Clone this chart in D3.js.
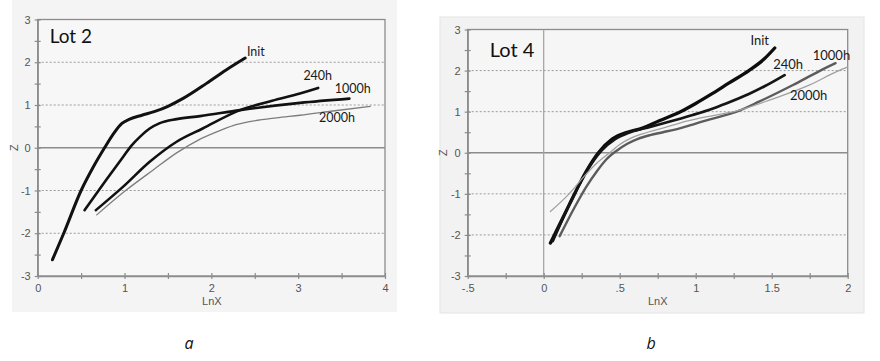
<!DOCTYPE html>
<html><head><meta charset="utf-8">
<script src="https://cdn.jsdelivr.net/npm/d3@7"></script>
<style>body{margin:0;background:#fff}svg{display:block}</style>
</head><body>
<svg id="c" width="880" height="361"></svg>
<script>
// ---------- data ----------
const seriesNames = ["Init", "240h", "1000h", "2000h"];

// Lot 2 (panel a): [LnX, Z]
const lot2Init = [[0.17,-2.62],[0.30,-2.0],[0.50,-1.0],[0.64,-0.45],[0.77,0.0],[0.88,0.35],[0.97,0.57],[1.06,0.67],[1.2,0.76],[1.35,0.85],[1.5,0.97],[1.68,1.16],[1.94,1.50],[2.17,1.82],[2.39,2.10]];
const lot2H240 = [[0.67,-1.46],[0.985,-0.91],[1.29,-0.33],[1.6,0.14],[1.9,0.45],[2.33,0.88],[2.7,1.1],[3.02,1.27],[3.23,1.40]];
const lot2H1000 = [[0.54,-1.46],[0.79,-0.75],[0.985,-0.21],[1.08,0.05],[1.18,0.26],[1.29,0.45],[1.40,0.57],[1.60,0.67],[1.87,0.74],[2.33,0.88],[3.02,1.05],[3.59,1.15]];
const lot2H2000 = [[0.68,-1.57],[1.02,-0.99],[1.33,-0.52],[1.6,-0.12],[1.85,0.18],[2.06,0.37],[2.25,0.52],[2.44,0.61],[2.75,0.70],[3.02,0.76],[3.4,0.86],[3.83,0.97]];

// Lot 4 (panel b)
const lot4Init = [[0.044,-2.20],[0.17,-1.25],[0.28,-0.45],[0.36,0.0],[0.45,0.33],[0.55,0.5],[0.65,0.6],[0.76,0.78],[0.9,1.0],[1.0,1.2],[1.1,1.42],[1.22,1.7],[1.35,2.0],[1.45,2.28],[1.52,2.55]];
const lot4H240 = [[0.06,-2.15],[0.19,-1.1],[0.3,-0.35],[0.38,0.05],[0.47,0.33],[0.57,0.5],[0.7,0.63],[0.8,0.73],[0.98,0.92],[1.1,1.06],[1.2,1.2],[1.35,1.43],[1.48,1.67],[1.585,1.89]];
const lot4H1000 = [[0.105,-2.03],[0.2,-1.35],[0.28,-0.83],[0.35,-0.45],[0.41,-0.17],[0.48,0.05],[0.55,0.22],[0.62,0.34],[0.7,0.43],[0.785,0.5],[0.9,0.6],[1.0,0.71],[1.1,0.82],[1.27,1.0],[1.42,1.25],[1.64,1.65],[1.82,2.0],[1.92,2.18]];
const lot4H2000 = [[0.044,-1.43],[0.17,-0.99],[0.26,-0.6],[0.35,-0.25],[0.45,0.05],[0.5,0.2],[0.57,0.35],[0.65,0.46],[0.8,0.62],[0.9,0.73],[1.05,0.86],[1.27,1.02],[1.5,1.3],[1.75,1.65],[1.93,1.98],[2.0,2.09]];

// label anchor positions in data units
const lot2LabelPos = [[2.41,2.21],[3.06,1.65],[3.42,1.35],[3.24,0.67]];
const lot4LabelPos = [[1.36,2.70],[1.51,2.11],[1.77,2.35],[1.62,1.36]];

// tick labels
const lot2XTickValues = [0, 1, 2, 3, 4];
const lot2XTickLabels = ["0", "1", "2", "3", "4"];
const lot4XTickValues = [-0.5, 0, 0.5, 1, 1.5, 2];
const lot4XTickLabels = ["-.5", "0", ".5", "1", "1.5", "2"];
const yTickValues = [-3, -2, -1, 0, 1, 2, 3];
const yTickLabels = ["-3", "-2", "-1", "0", "1", "2", "3"];

// ---------- drawing ----------
const svg = d3.select("#c");
const AX = "#8c8c8c", TXT = "#555";

function drawPanel(o) {
  const g = svg.append("g");
  g.append("rect").attr("x", o.bg[0]).attr("y", o.bg[1]).attr("width", o.bg[2]).attr("height", o.bg[3])
    .attr("fill", o.bgFill).attr("stroke", o.bgStroke).attr("stroke-width", 1);
  const x = d3.scaleLinear().domain(o.xDomain).range(o.xRange);
  const y = d3.scaleLinear().domain([-3, 3]).range(o.yRange);
  const [x0, x1] = o.xRange, [yb, yt] = o.yRange;

  g.append("rect").attr("x", x0).attr("y", yt).attr("width", x1 - x0).attr("height", yb - yt)
    .attr("fill", o.plotFill).attr("stroke", AX).attr("stroke-width", 1.3);

  // dotted grid
  g.selectAll(".grid").data([-2, -1, 1, 2]).join("line")
    .attr("x1", x0).attr("x2", x1).attr("y1", d => y(d)).attr("y2", d => y(d))
    .attr("stroke", "#9a9a9a").attr("stroke-width", 1).attr("stroke-dasharray", "2,2");
  // zero lines
  g.append("line").attr("x1", x0).attr("x2", x1).attr("y1", y(0)).attr("y2", y(0))
    .attr("stroke", AX).attr("stroke-width", 1.3);
  if (o.zeroV) {
    g.append("line").attr("x1", x(0)).attr("x2", x(0)).attr("y1", yt).attr("y2", yb)
      .attr("stroke", "#a0a0a0").attr("stroke-width", 1.2);
  }

  // x axis
  const xa = g.append("g").attr("transform", `translate(0,${yb})`)
    .call(d3.axisBottom(x).tickValues(o.xMinor).tickSizeInner(3).tickSizeOuter(0).tickPadding(5)
      .tickFormat(d => { const i = o.xTickValues.findIndex(v => Math.abs(v - d) < 1e-9); return i >= 0 ? o.xTickLabels[i] : ""; }));
  xa.select(".domain").attr("stroke", AX).attr("stroke-width", 1.3);
  xa.selectAll(".tick line").attr("y1", -3).attr("stroke", AX).attr("stroke-width", 1.2);
  xa.selectAll(".tick text").attr("fill", TXT).attr("font-size", 11).attr("font-family", "Liberation Sans, Arial, sans-serif");

  // y axis
  const ya = g.append("g").attr("transform", `translate(${x0},0)`)
    .call(d3.axisLeft(y).tickValues(d3.range(-3, 3.01, 0.5)).tickSizeInner(3).tickSizeOuter(0).tickPadding(4)
      .tickFormat(d => { const i = yTickValues.findIndex(v => Math.abs(v - d) < 1e-9); return i >= 0 ? yTickLabels[i] : ""; }));
  ya.select(".domain").attr("stroke", AX).attr("stroke-width", 1.3);
  ya.selectAll(".tick line").attr("x1", 3).attr("stroke", AX).attr("stroke-width", 1.2);
  ya.selectAll(".tick text").attr("fill", TXT).attr("font-size", 11).attr("font-family", "Liberation Sans, Arial, sans-serif");

  // axis titles
  g.append("text").attr("x", (x0 + x1) / 2 + o.xTitleDx).attr("y", yb + 29).attr("text-anchor", "middle")
    .attr("fill", TXT).attr("font-size", 11).attr("font-family", "Liberation Sans, Arial, sans-serif").text("LnX");
  g.append("text").attr("transform", `translate(${x0 - o.zTitleDx},${y(0)}) rotate(-90)`).attr("text-anchor", "middle")
    .attr("fill", TXT).attr("font-size", 11).attr("font-family", "Liberation Sans, Arial, sans-serif").text("Z");

  // lines
  const line = d3.line().x(d => x(d[0])).y(d => y(d[1])).curve(d3.curveMonotoneX);
  o.series.forEach((s, i) => {
    g.append("path").attr("d", line(s)).attr("fill", "none")
      .attr("stroke", o.colors[i]).attr("stroke-width", o.widths[i])
      .attr("stroke-linecap", "round").attr("stroke-linejoin", "round");
  });

  // labels
  seriesNames.forEach((n, i) => {
    g.append("text").attr("x", x(o.labelPos[i][0])).attr("y", y(o.labelPos[i][1]))
      .attr("dominant-baseline", "middle").attr("fill", "#1a1a1a")
      .attr("font-size", o.labelSize).attr("font-family", "Lato, 'Open Sans', sans-serif").text(n);
  });

  g.append("text").attr("x", x0 + o.lotDx).attr("y", yt + o.lotDy)
    .attr("font-size", o.lotSize).attr("fill", "#111").attr("font-family", "Lato, 'Open Sans', sans-serif").text(o.lot);

  g.append("text").attr("x", o.letter[1]).attr("y", 349).attr("text-anchor", "middle")
    .attr("font-size", 16).attr("font-style", "italic").attr("fill", "#111")
    .attr("font-family", "'Open Sans', 'Liberation Sans', sans-serif").text(o.letter[0]);
}

drawPanel({
  bg: [12, -1, 385, 313], bgFill: "#f4f4f4", bgStroke: "none", plotFill: "#f7f7f7",
  xDomain: [0, 4], xRange: [37.7, 385], yRange: [276, 19.5],
  xMinor: d3.range(0, 4.01, 0.5), xTickValues: lot2XTickValues, xTickLabels: lot2XTickLabels,
  zeroV: false, xTitleDx: 0.5, zTitleDx: 20,
  series: [lot2Init, lot2H240, lot2H1000, lot2H2000],
  colors: ["#111", "#111", "#111", "#7d7d7d"], widths: [3, 2.6, 2.6, 1.3],
  labelPos: lot2LabelPos, labelSize: 12.5,
  lot: "Lot 2", lotDx: 12, lotDy: 23, lotSize: 19,
  letter: ["a", 189]
});

drawPanel({
  bg: [440, 17, 424, 296], bgFill: "#f2f2f2", bgStroke: "#e4e4e4", plotFill: "#f6f6f6",
  xDomain: [-0.5, 2], xRange: [467.7, 847.7], yRange: [276, 29.5],
  xMinor: d3.range(-0.5, 2.01, 0.25), xTickValues: lot4XTickValues, xTickLabels: lot4XTickLabels,
  zeroV: true, xTitleDx: 0, zTitleDx: 21,
  series: [lot4Init, lot4H240, lot4H1000, lot4H2000],
  colors: ["#0d0d0d", "#151515", "#5c5c5c", "#a0a0a0"], widths: [3.3, 2.7, 2.4, 1.3],
  labelPos: lot4LabelPos, labelSize: 13,
  lot: "Lot 4", lotDx: 22, lotDy: 27, lotSize: 20,
  letter: ["b", 651]
});
</script>
</body></html>
